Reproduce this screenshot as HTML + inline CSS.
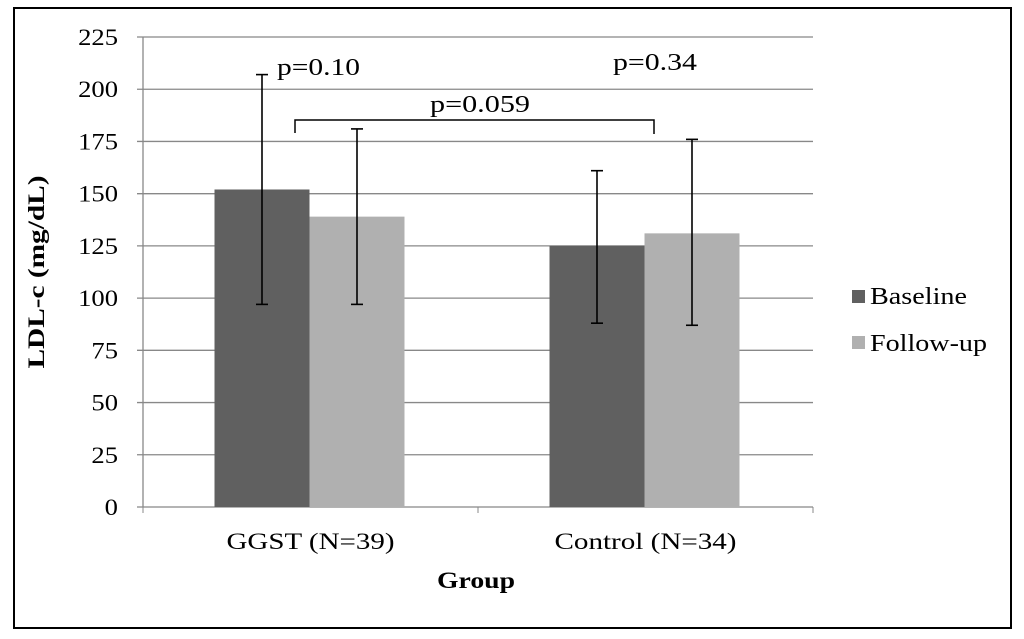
<!DOCTYPE html>
<html><head><meta charset="utf-8"><style>
body{margin:0;background:#fff;}
svg{display:block;font-family:"Liberation Serif",serif;}
</style></head><body>
<svg id="chart" width="1024" height="639">
<rect x="14" y="8" width="997" height="620" fill="#fff" stroke="#000" stroke-width="2"/>
<g id="grid"></g><g id="bars"></g><g id="errs"></g><g id="labels"></g>
<text x="44" y="272" transform="rotate(-90 44 272)" text-anchor="middle" font-size="23" font-weight="bold" textLength="193" lengthAdjust="spacingAndGlyphs">LDL-c (mg/dL)</text>
<text x="476" y="588" text-anchor="middle" font-size="23" font-weight="bold" textLength="78" lengthAdjust="spacingAndGlyphs">Group</text>
<path d="M295 133 V120 H654 V134" fill="none" stroke="#000" stroke-width="1.5"/>
<text x="430" y="112" font-size="24" textLength="100" lengthAdjust="spacingAndGlyphs">p=0.059</text>
<text x="277" y="75" font-size="24" textLength="83" lengthAdjust="spacingAndGlyphs">p=0.10</text>
<text x="613" y="70" font-size="24" textLength="84" lengthAdjust="spacingAndGlyphs">p=0.34</text>
<rect x="852" y="290" width="13" height="13" fill="#606060"/>
<text x="870" y="304" font-size="24" textLength="97" lengthAdjust="spacingAndGlyphs">Baseline</text>
<rect x="852" y="336" width="13" height="13" fill="#b0b0b0"/>
<text x="870" y="351" font-size="24" textLength="117" lengthAdjust="spacingAndGlyphs">Follow-up</text>
</svg>
<script>
const categories=["GGST (N=39)","Control (N=34)"];
const baseline=[152,125];
const followup=[139,131];
const baselineLow=[97,88];
const baselineHigh=[207,161];
const followupLow=[97,87];
const followupHigh=[181,176];
const ticks=[0,25,50,75,100,125,150,175,200,225];
const NS="http://www.w3.org/2000/svg";
const x0=143,x1=813,y0=507,yTop=37;
const y=v=>y0-(v/225)*(y0-yTop);
const groupW=(x1-x0)/categories.length;
const cx=i=>x0+groupW*(i+0.5);
function mk(tag,attrs,parent){const e=document.createElementNS(NS,tag);for(const k in attrs)e.setAttribute(k,attrs[k]);document.getElementById(parent).appendChild(e);return e;}
ticks.forEach(t=>{
 const l=mk('line',{x1:x0-6,x2:x1,y1:y(t),y2:y(t),stroke:'#888','stroke-width':1.3},'grid');
 
 
 const tx=mk('text',{x:118,y:y(t)+8,'text-anchor':'end','font-size':23,textLength:String(t).length*13.3,lengthAdjust:'spacingAndGlyphs'},'labels');
 tx.textContent=t;
 
 
});
const ax=mk('line',{x1:x0,x2:x0,y1:yTop,y2:y0,stroke:'#888','stroke-width':1.3},'grid');


[0,1,2].forEach(i=>{const t=mk('line',{x1:x0+groupW*i,x2:x0+groupW*i,y1:y0,y2:y0+6,stroke:'#888'},'grid');
 
 });
const bw=95;
function eb(xc,lo,hi){
 const g=[['line',{x1:xc,x2:xc,y1:y(hi),y2:y(lo)}],['line',{x1:xc-6,x2:xc+6,y1:y(hi),y2:y(hi)}],['line',{x1:xc-6,x2:xc+6,y1:y(lo),y2:y(lo)}]];
 g.forEach(([t,a])=>{a.stroke='#000';a['stroke-width']=1.6;const e=mk(t,a,'errs');
 
 });
}
const catW=[168,182];
categories.forEach((c,i)=>{
 const b=mk('rect',{x:cx(i)-bw-1,y:y(baseline[i]),width:bw,height:y0-y(baseline[i]),fill:'#606060'},'bars');
 
 
 const f=mk('rect',{x:cx(i)-1,y:y(followup[i]),width:bw,height:y0-y(followup[i]),fill:'#b0b0b0'},'bars');
 
 
 eb(cx(i)-bw/2-1,baselineLow[i],baselineHigh[i]);
 eb(cx(i)+bw/2-1,followupLow[i],followupHigh[i]);
 const t=mk('text',{x:cx(i),y:549,'text-anchor':'middle','font-size':23,textLength:catW[i],lengthAdjust:'spacingAndGlyphs'},'labels');
 t.textContent=c;
 
 
});
</script>
</body></html>
